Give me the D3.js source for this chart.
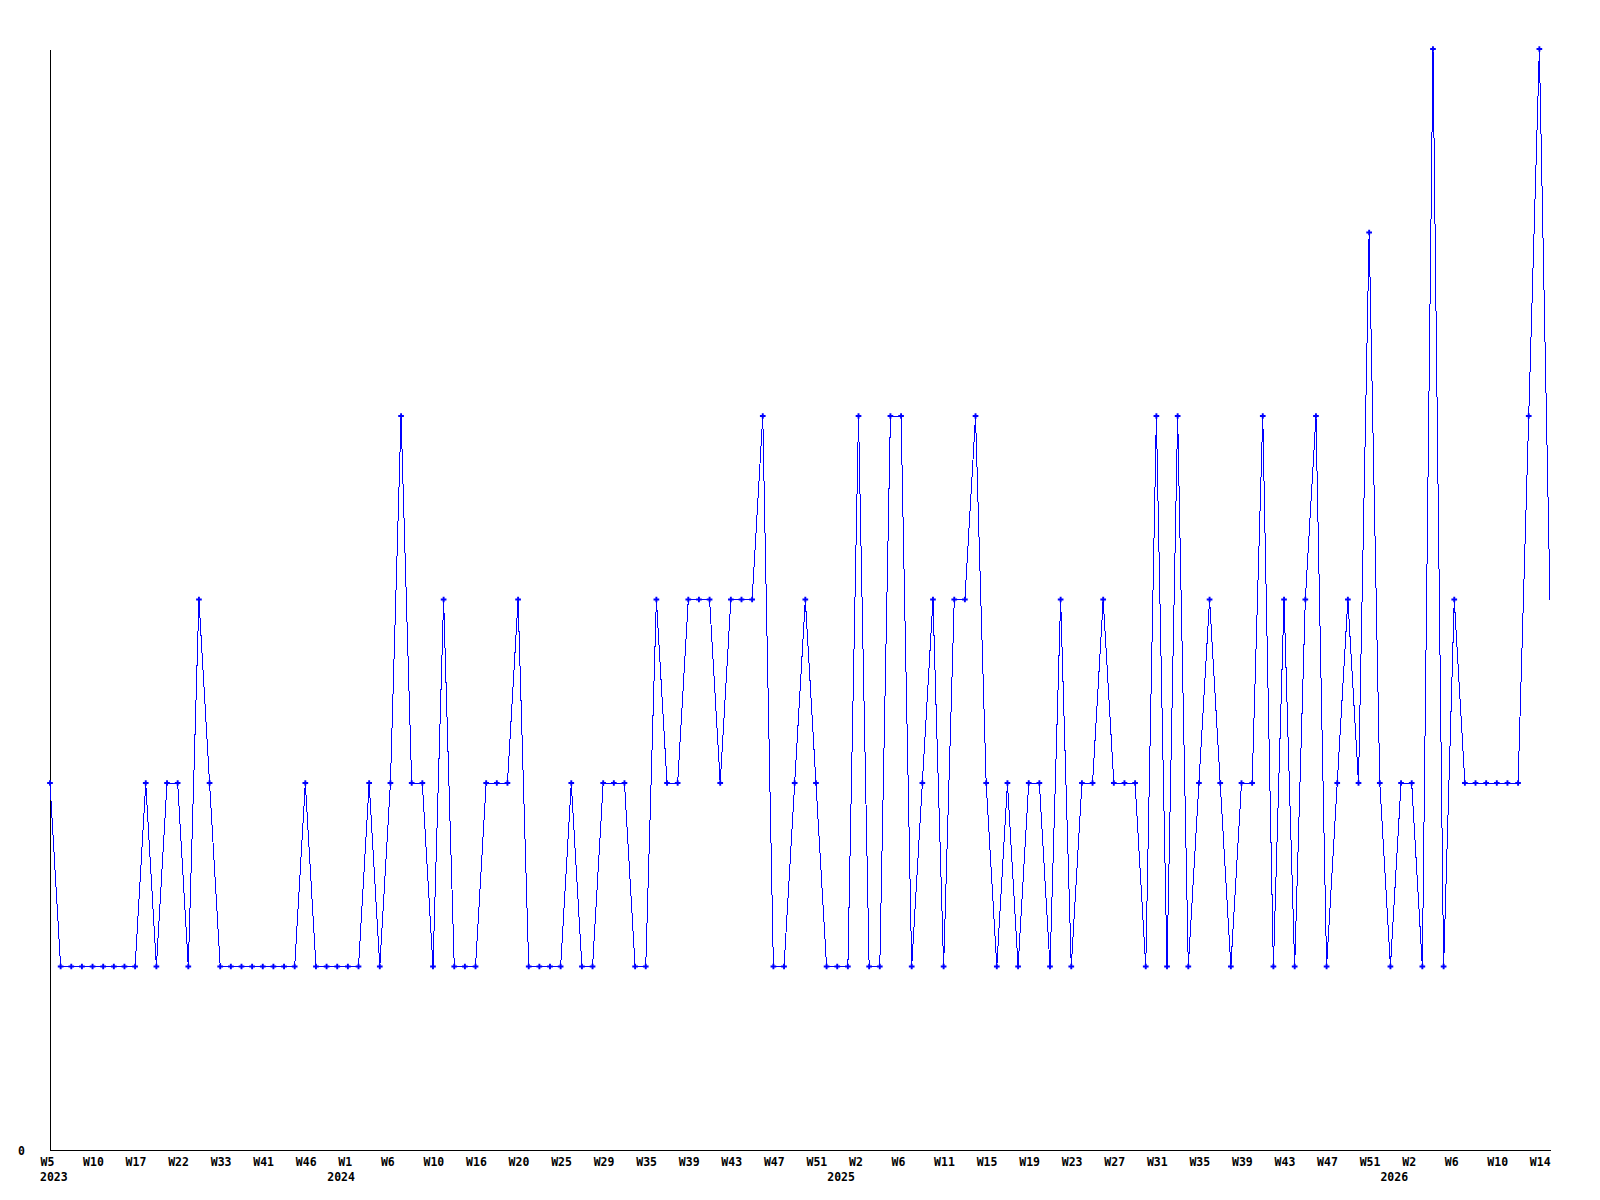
<!DOCTYPE html>
<html>
<head>
<meta charset="utf-8">
<script src="https://cdn.jsdelivr.net/npm/d3@7"></script>
<style>
  body { margin: 0; background: #fff; }
  text { font-family: "DejaVu Sans Mono", monospace; font-weight: bold; font-size: 11.5px; fill: #000; }
</style>
</head>
<body>
<div id="chart"></div>
<script>
// one value per data point (weekly counts)
const values = [
  2, 1, 1, 1, 1, 1, 1, 1, 1, 2,
  1, 2, 2, 1, 3, 2, 1, 1, 1, 1,
  1, 1, 1, 1, 2, 1, 1, 1, 1, 1,
  2, 1, 2, 4, 2, 2, 1, 3, 1, 1,
  1, 2, 2, 2, 3, 1, 1, 1, 1, 2,
  1, 1, 2, 2, 2, 1, 1, 3, 2, 2,
  3, 3, 3, 2, 3, 3, 3, 4, 1, 1,
  2, 3, 2, 1, 1, 1, 4, 1, 1, 4,
  4, 1, 2, 3, 1, 3, 3, 4, 2, 1,
  2, 1, 2, 2, 1, 3, 1, 2, 2, 3,
  2, 2, 2, 1, 4, 1, 4, 1, 2, 3,
  2, 1, 2, 2, 4, 1, 3, 1, 3, 4,
  1, 2, 3, 2, 5, 2, 1, 2, 2, 1,
  6, 1, 3, 2, 2, 2, 2, 2, 2, 4,
  6, 3
];

// labels shown every 4th point
const weekLabels = [
  "W5", "W10", "W17", "W22", "W33", "W41", "W46", "W1", "W6", "W10",
  "W16", "W20", "W25", "W29", "W35", "W39", "W43", "W47", "W51", "W2",
  "W6", "W11", "W15", "W19", "W23", "W27", "W31", "W35", "W39", "W43",
  "W47", "W51", "W2", "W6", "W10", "W14"
];
const yearLabels = ["2023", "2024", "2025", "2026"];
const yearIndex = [0, 27, 74, 126];

const margin = { top: 49, right: 50, bottom: 50, left: 50 },
    width = 1600 - margin.left - margin.right,
    height = 1200 - margin.top - margin.bottom;

const svg = d3.select("#chart")
  .append("svg")
    .attr("width", width + margin.left + margin.right)
    .attr("height", height + margin.top + margin.bottom)
  .append("g")
    .attr("transform", `translate(${margin.left}, ${margin.top})`);

const idx = d3.range(values.length);

const x = d3.scalePoint()
  .domain(idx)
  .range([0, width]);

const y = d3.scaleLinear()
  .domain([0, 6])
  .range([height, 0]);

// x axis
const xAxis = svg.append("g")
  .attr("transform", `translate(0, ${height})`)
  .call(d3.axisBottom(x)
    .tickValues(d3.range(0, values.length, 4))
    .tickSize(0)
    .tickFormat((d, i) => weekLabels[i]));
xAxis.select(".domain").attr("stroke", "#000").attr("shape-rendering", "crispEdges");
xAxis.attr("font-family", null).attr("font-size", null);
xAxis.selectAll("text")
  .attr("text-anchor", "start")
  .attr("x", -10)
  .attr("y", 16)
  .attr("dy", 0);

// year labels under the week labels
svg.selectAll(".year")
  .data(yearLabels)
  .enter()
  .append("text")
    .attr("class", "year")
    .attr("x", (d, i) => x(yearIndex[i]) - 10)
    .attr("y", height + 31)
    .text(d => d);

// y axis, only the zero label
const yAxis = svg.append("g")
  .call(d3.axisLeft(y).tickValues([0]).tickSize(0).tickPadding(25).tickFormat(d3.format("d")));
yAxis.select(".domain").attr("stroke", "#000").attr("shape-rendering", "crispEdges");
yAxis.attr("font-family", null).attr("font-size", null);
yAxis.selectAll("text").attr("dy", "0.35em");

// the line
const line = d3.line()
  .x(d => x(d))
  .y(d => y(values[d]));

svg.append("path")
  .datum(idx)
  .attr("fill", "none")
  .attr("stroke", "#0000ff")
  .attr("stroke-width", 1)
  .attr("shape-rendering", "crispEdges")
  .attr("d", line);

// markers, the last (incomplete) point has none
svg.selectAll(".dot")
  .data(idx.slice(0, -1))
  .enter()
  .append("path")
    .attr("class", "dot")
    .attr("transform", d => `translate(${x(d)}, ${y(values[d])})`)
    .attr("d", d3.symbol().type(d3.symbolCross).size(18))
    .attr("fill", "#0000ff");
</script>
</body>
</html>
